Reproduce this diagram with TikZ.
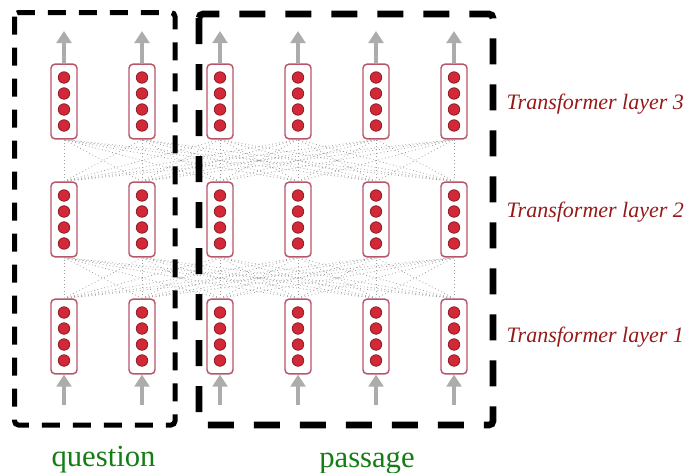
\documentclass[tikz,border=0pt]{standalone}
\usepackage{fontspec}
\setmainfont{Liberation Serif}
\usetikzlibrary{arrows.meta,positioning}
\definecolor{boxred}{RGB}{185,85,105}
\definecolor{dotred}{RGB}{210,40,55}
\definecolor{dotrim}{RGB}{140,25,35}
\definecolor{labred}{RGB}{150,25,25}
\definecolor{qgreen}{RGB}{20,125,20}
\begin{document}
\begin{tikzpicture}[x=0.75pt,y=-0.75pt,
	cell/.style={draw=boxred,line width=1.1pt,rounded corners=3pt,fill=white,minimum width=19.5pt,minimum height=56pt,inner sep=0pt},
	unit/.style={circle,draw=dotrim,fill=dotred,line width=0.6pt,minimum size=8.6pt,inner sep=0pt},
	link/.style={gray!75,dotted,line width=0.6pt},
	flow/.style={gray!65,line width=2.4pt,-{Triangle[width=11pt,length=9pt]}},
	layer/.style={anchor=base west,text=labred,font=\itshape\fontsize{16.5}{18}\selectfont},
	group/.style={anchor=base,text=qgreen,font=\fontsize{23}{26}\selectfont}]
	\useasboundingbox (0,0) rectangle (684,472);
	% cells and their units
	\foreach \l/\y in {1/336.5,2/219.5,3/101.5}
	\foreach \c/\x in {1/64,2/142,3/220,4/298,5/376,6/454} {
		\node[cell] (b\l\c) at (\x,\y) {};
		\foreach \k/\d in {1/-24,2/-8,3/8,4/24}
		\node[unit] (d\l\c\k) at (\x,{\y+\d}) {};
	}
	% all-to-all links
	\foreach \l/\m in {1/2,2/3}
	\foreach \i in {1,...,6}
	\foreach \j in {1,...,6}
	\draw[link] (b\l\i.north) -- (b\m\j.south);
	% input and output arrows
	\foreach \c/\x in {1/64,2/142,3/220,4/298,5/376,6/454} {
		\coordinate (t\c) at (\x,31);
		\coordinate (s\c) at (\x,405);
		\draw[flow] (b3\c.north) -- (t\c);
		\draw[flow] (s\c) -- (b1\c.south);
	}
	% frames
	\draw[line width=3.75pt,dash pattern=on 13.5pt off 9.75pt,rounded corners=3pt] (14.5,12.5) rectangle (175,425);
	\draw[line width=5pt,dash pattern=on 19.5pt off 15pt,rounded corners=3pt] (199,14) rectangle (493,425);
	\node[group] (q) at (103.5,466) {question};
	\node[group] (p) at (367,467) {passage};
	\node[layer] (l3) at (502,109) {Transformer layer 3};
	\node[layer] (l2) at (502,217) {Transformer layer 2};
	\node[layer] (l1) at (502,342) {Transformer layer 1};
\end{tikzpicture}
\end{document}
